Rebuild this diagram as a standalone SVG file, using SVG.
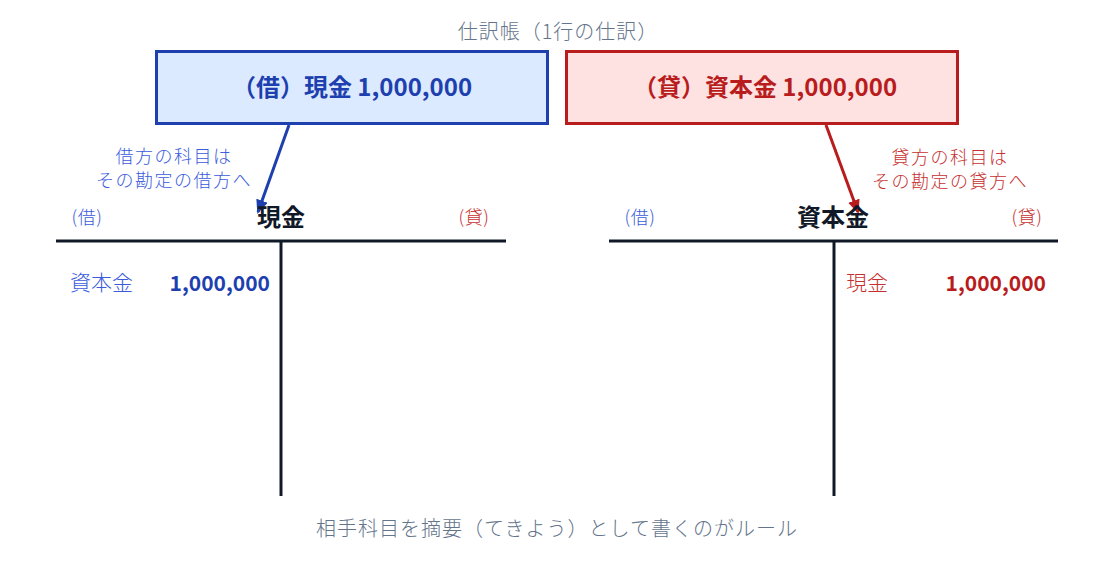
<svg xmlns="http://www.w3.org/2000/svg" width="1114" height="562" viewBox="0 0 1114 562">
<style>
text{font-family:"Noto Sans CJK JP","Noto Sans",sans-serif}
.grey{fill:#64748b;font-size:20px;font-weight:300}
.box-t{font-size:24px;font-weight:700;text-anchor:middle}
.note{font-size:18px;font-weight:300;text-anchor:middle;letter-spacing:1.5px}
.acc{font-size:24px;font-weight:700;fill:#111827;text-anchor:middle}
.side{font-size:18px;font-weight:300;text-anchor:middle;letter-spacing:0.5px}
.ent{font-size:21px;font-weight:300}
.amt{font-size:21px;font-weight:700;text-anchor:end}
.tl{stroke:#111827;stroke-width:3;fill:none}
.blue{fill:#1e40af}
.red{fill:#b91c1c}
.lblue{fill:#3b5bdb}
.lred{fill:#c53030}
</style>
<defs>
<marker id="ab" markerWidth="14" markerHeight="12" refX="12" refY="6" orient="auto" markerUnits="userSpaceOnUse" viewBox="0 0 14 12"><path d="M0,0 L14,6 L0,12 z" fill="#1e40af"/></marker>
<marker id="ar" markerWidth="14" markerHeight="12" refX="12" refY="6" orient="auto" markerUnits="userSpaceOnUse" viewBox="0 0 14 12"><path d="M0,0 L14,6 L0,12 z" fill="#b91c1c"/></marker>
</defs>
<rect width="1114" height="562" fill="#ffffff"/>
<text class="grey" x="558" y="39" text-anchor="middle" letter-spacing="1">仕訳帳（1行の仕訳）</text>
<g id="debit-entry">
<rect x="156.5" y="51.5" width="391" height="72" fill="#dbeafe" stroke="#1e40af" stroke-width="3"/>
<text class="box-t blue" x="352" y="96">（借）現金 1,000,000</text>
</g>
<g id="credit-entry">
<rect x="566.5" y="51.5" width="391" height="72" fill="#fee2e2" stroke="#b91c1c" stroke-width="3"/>
<text class="box-t red" x="765" y="96">（貸）資本金 1,000,000</text>
</g>
<g id="connectors">
<line x1="289" y1="125" x2="258" y2="212" stroke="#1e40af" stroke-width="3" marker-end="url(#ab)"/>
<line x1="826" y1="125" x2="858" y2="212" stroke="#b91c1c" stroke-width="3" marker-end="url(#ar)"/>
</g>
<g id="note-debit">
<text class="note lblue" x="174" y="163">借方の科目は</text>
<text class="note lblue" x="174" y="187">その勘定の借方へ</text>
</g>
<g id="note-credit">
<text class="note lred" x="950" y="164">貸方の科目は</text>
<text class="note lred" x="950" y="188">その勘定の貸方へ</text>
</g>
<g id="account-cash">
<line class="tl" x1="56" y1="241" x2="506" y2="241"/>
<line class="tl" x1="281" y1="241" x2="281" y2="496"/>
<text class="acc" x="281" y="226">現金</text>
<text class="side lblue" x="87" y="224">(借)</text>
<text class="side lred" x="474" y="224">(貸)</text>
<text class="ent lblue" x="70" y="290">資本金</text>
<text class="amt blue" x="270" y="291">1,000,000</text>
</g>
<g id="account-capital">
<line class="tl" x1="609" y1="241" x2="1058" y2="241"/>
<line class="tl" x1="834" y1="241" x2="834" y2="496"/>
<text class="acc" x="833" y="226">資本金</text>
<text class="side lblue" x="640" y="224">(借)</text>
<text class="side lred" x="1027" y="224">(貸)</text>
<text class="ent lred" x="846" y="290">現金</text>
<text class="amt red" x="1046" y="291">1,000,000</text>
</g>
<text class="grey" x="557" y="536" text-anchor="middle" letter-spacing="1">相手科目を摘要（てきよう）として書くのがルール</text>
</svg>
